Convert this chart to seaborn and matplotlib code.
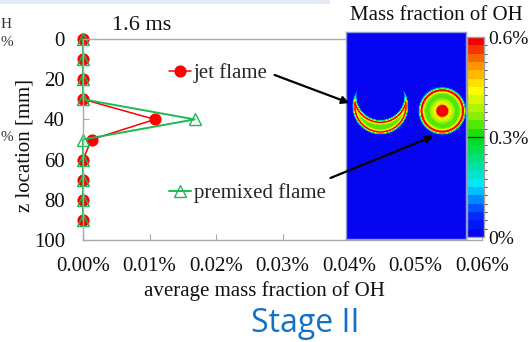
import numpy as np
import pandas as pd
import seaborn as sns
import matplotlib
matplotlib.use("Agg")
import matplotlib.pyplot as plt
from matplotlib.colors import LinearSegmentedColormap, ListedColormap, BoundaryNorm
from matplotlib.patches import FancyArrowPatch, Rectangle
from matplotlib.cm import ScalarMappable

# ---- profile data: average OH mass fraction [%] along z [mm] ----
z_mm = [0, 10, 20, 30, 40, 50, 60, 70, 80, 90]
jet_oh = [0.0, 0.0, 0.0, 0.0, 0.0108, 0.0013, 0.0, 0.0, 0.0, 0.0]
premixed_oh = [0.0, 0.0, 0.0, 0.0, 0.0168, 0.0, 0.0, 0.0, 0.0, 0.0]
series_names = ["jet flame", "premixed flame"]

x_ticks = [0.00, 0.01, 0.02, 0.03, 0.04, 0.05, 0.06]
y_ticks = [0, 20, 40, 60, 80, 100]
cbar_ticks = [0.0, 0.3, 0.6]
cbar_labels = ["0%", "0.3%", "0.6%"]

sns.set_style("ticks")
plt.rcParams["font.family"] = ["Liberation Serif", "DejaVu Serif"]

W, H = 529, 342
fig = plt.figure(figsize=(W / 100, H / 100), dpi=100)
fig.patch.set_facecolor("white")


def fx(x):
    return x / W


def fy(y):
    return 1 - y / H


def box(x0, y0, x1, y1):
    return [fx(x0), fy(y1), fx(x1) - fx(x0), fy(y0) - fy(y1)]


# thin header strip of the page
fig.add_artist(Rectangle((0, fy(4)), fx(330), 4 / H, transform=fig.transFigure,
                         facecolor="#e4ebf4", edgecolor="none", zorder=0))

# ---- line profiles ----
ax = fig.add_axes(box(83, 39, 482, 240))
df = pd.DataFrame({
    "z": z_mm * 2,
    "oh": jet_oh + premixed_oh,
    "flame": [series_names[0]] * len(z_mm) + [series_names[1]] * len(z_mm),
})
red = "#ff0000"
green = "#1db954"
sns.lineplot(data=df[df.flame == series_names[0]], x="oh", y="z", sort=False,
             estimator=None, ax=ax, color=red, lw=1.1, marker="o", ms=8,
             mec=red, mfc=red, clip_on=False, label=series_names[0], legend=False)
sns.lineplot(data=df[df.flame == series_names[1]], x="oh", y="z", sort=False,
             estimator=None, ax=ax, color=green, lw=1.4, marker="^", ms=8,
             mec=green, mfc="none", mew=1.0, clip_on=False,
             label=series_names[1], legend=False)

ax.set_xlim(0, 0.06)
ax.set_ylim(100, 0)
ax.set_xticks(x_ticks)
ax.set_xticklabels([f"{v:.2f}%" for v in x_ticks])
ax.set_yticks(y_ticks)
ax.set_xlabel("")
ax.set_ylabel("")
ax.tick_params(axis="both", direction="in", length=4, color="#a8a8a8",
               labelsize=15, labelcolor="#111111")
ax.tick_params(axis="x", pad=12)
ax.tick_params(axis="y", pad=13)
for side in ["left", "bottom", "top"]:
    ax.spines[side].set_color("#a8a8a8")
    ax.spines[side].set_linewidth(1.0)
ax.spines["right"].set_visible(False)

handles = ax.get_lines()
leg1 = ax.legend([handles[0]], [series_names[0]], loc="center left",
                 bbox_to_anchor=(fx(169), fy(73)), bbox_transform=fig.transFigure,
                 frameon=False, fontsize=15, handlelength=1.05,
                 handletextpad=0.15, borderpad=0, borderaxespad=0)
ax.add_artist(leg1)
ax.legend([handles[1]], [series_names[1]], loc="center left",
          bbox_to_anchor=(fx(169), fy(193)), bbox_transform=fig.transFigure,
          frameon=False, fontsize=15, handlelength=1.05,
          handletextpad=0.15, borderpad=0, borderaxespad=0)

# ---- OH contour snapshot ----
oh_cmap = LinearSegmentedColormap.from_list("oh", [
    (0.00, "#0505f2"), (0.10, "#0030ff"), (0.25, "#00e8ff"),
    (0.50, "#00dc10"), (0.62, "#9af000"), (0.75, "#ffff00"),
    (0.88, "#ff8c00"), (1.00, "#f00000")])
n_levels = 24
levels = np.linspace(0, 0.6, n_levels + 1)
cmap_d = ListedColormap(oh_cmap(np.linspace(0, 1, n_levels)))
norm = BoundaryNorm(levels, n_levels)

px0, px1, py0, py1 = 346, 466, 32, 239
gx = np.linspace(px0, px1, 480)
gy = np.linspace(py0, py1, 828)
X, Y = np.meshgrid(gx, gy)


def sig(s, w):
    return 1 / (1 + np.exp(-s / w))


# crescent flame front: inside the outer circle, outside the offset inner circle
c_out, r_out = (380.5, 106.5), 27.0
c_in, r_in = (380.5, 96.0), 25.0
d_out = r_out - np.hypot(X - c_out[0], Y - c_out[1])
d_in = np.hypot(X - c_in[0], Y - c_in[1]) - r_in
s_cres = np.minimum(d_out, d_in)
cres = (0.34 * sig(s_cres, 0.45)
        + 0.27 * np.exp(-((s_cres - 1.2) / 1.7) ** 2))

# premixed kernel: annular rim plus hot core
c_disk, r_disk, r_core = (442.5, 111.0), 22.5, 6.5
rr = np.hypot(X - c_disk[0], Y - c_disk[1])
s_disk = r_disk - rr
disk = (0.34 * sig(s_disk, 0.45)
        + 0.27 * np.exp(-((s_disk - 1.5) / 2.2) ** 2)
        + 0.06 * np.exp(-((rr - 9.5) / 2.5) ** 2)
        + 0.28 * sig(r_core - rr, 0.6))

field = np.clip(np.maximum(cres, disk), 0, 0.6)

fax = fig.add_axes(box(px0, py0, px1, py1))
fax.imshow(field, cmap=cmap_d, norm=norm, extent=[px0, px1, py1, py0],
           origin="upper", interpolation="nearest", aspect="auto")
fax.set_xticks([])
fax.set_yticks([])
for sp in fax.spines.values():
    sp.set_color("#8f9bd8")
    sp.set_linewidth(1.0)

cax = fig.add_axes(box(467, 37, 484, 237))
cb = fig.colorbar(ScalarMappable(norm=norm, cmap=cmap_d), cax=cax,
                  ticks=cbar_ticks)
cb.ax.set_yticklabels(cbar_labels)
cb.ax.tick_params(length=0, pad=3, labelsize=14, labelcolor="#111111")
cb.outline.set_edgecolor("#a0a0a0")
cb.outline.set_linewidth(1.0)
cax.axhline(0.3, color="#202020", lw=0.9)

# ---- annotations ----
fig.add_artist(FancyArrowPatch((fx(272), fy(74)), (fx(352), fy(104)),
                               transform=fig.transFigure, arrowstyle="-|>",
                               mutation_scale=11, color="black", lw=1.6))
fig.add_artist(FancyArrowPatch((fx(328), fy(179)), (fx(436), fy(135)),
                               transform=fig.transFigure, arrowstyle="-|>",
                               mutation_scale=11, color="black", lw=1.6))

fig.text(fx(142), fy(25), "1.6 ms", ha="center", va="center", fontsize=16,
         color="#111111")
fig.text(fx(436), fy(16), "Mass fraction of OH", ha="center", va="center",
         fontsize=15, color="#111111")
fig.text(fx(264), fy(291), "average mass fraction of OH", ha="center",
         va="center", fontsize=15, color="#111111")
fig.text(fx(25), fy(145), "z location [mm]", ha="center", va="center",
         rotation=90, fontsize=15, color="#111111")
fig.text(fx(305), fy(323), "Stage II", ha="center", va="center",
         fontsize=23, color="#1570c4", family=["Open Sans", "DejaVu Sans"])

# last characters of the neighbouring panel's labels
for yy, t in [(25, "H"), (43, "%"), (138, "%")]:
    fig.text(fx(0.5), fy(yy), t, ha="left", va="center", fontsize=11,
             color="#333333")

fig.savefig("out.png", dpi=100, facecolor="white")
